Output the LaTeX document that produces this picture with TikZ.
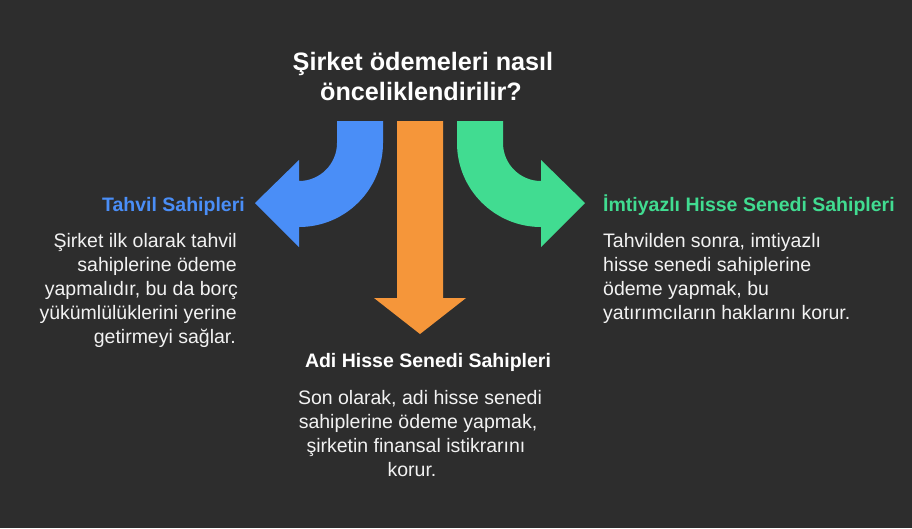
\documentclass[tikz,border=0pt]{standalone}
\usepackage{fontspec}
\setmainfont{Liberation Sans}
\definecolor{bgc}{RGB}{45,45,45}
\definecolor{bluec}{RGB}{74,142,247}
\definecolor{orangec}{RGB}{245,150,58}
\definecolor{greenc}{RGB}{65,220,145}
\definecolor{txtc}{RGB}{242,242,242}
\begin{document}
\begin{tikzpicture}[x=1pt,y=-1pt,
  title/.style={inner sep=0pt,text=white,font=\fontsize{25.2}{30}\selectfont\bfseries},
  head/.style={inner sep=0pt,font=\fontsize{19.5}{24}\selectfont\bfseries},
  body/.style={inner sep=0pt,text=txtc,font=\fontsize{19.5}{24}\selectfont}]
\fill[bgc] (0,0) rectangle (912,528);
\useasboundingbox (0,0) rectangle (912,528);
% blue arrow
\fill[bluec] (383,121) -- (383,143) arc[start angle=0,end angle=90,radius=84]
  -- (299,247) -- (255,203) -- (299,160) -- (299,181)
  arc[start angle=90,end angle=0,radius=38] -- (337,121) -- cycle;
% green arrow
\fill[greenc] (457,121) -- (457,143) arc[start angle=180,end angle=90,radius=84]
  -- (541,247) -- (585,203) -- (541,160) -- (541,181)
  arc[start angle=90,end angle=180,radius=38] -- (503,121) -- cycle;
% orange arrow
\fill[orangec] (397,121) -- (397,298) -- (374,298) -- (420,334) -- (466,298)
  -- (443,298) -- (443,121) -- cycle;
% title
\node[title,anchor=base] (t1) at (423,70) {Şirket ödemeleri nasıl};
\node[title,anchor=base] (t2) at (421,100) {önceliklendirilir?};
% blue
\node[head,text=bluec,anchor=base east] (bh) at (245,211) {Tahvil Sahipleri};
\node[body,anchor=base east] (b1) at (237,247) {Şirket ilk olarak tahvil};
\node[body,anchor=base east] (b2) at (237,271) {sahiplerine ödeme};
\node[body,anchor=base east] (b3) at (238,295) {yapmalıdır, bu da borç};
\node[body,anchor=base east] (b4) at (237,319) {yükümlülüklerini yerine};
\node[body,anchor=base east] (b5) at (236,343) {getirmeyi sağlar.};
% green
\node[head,text=greenc,anchor=base west] (gh) at (603,211) {İmtiyazlı Hisse Senedi Sahipleri};
\node[body,anchor=base west] (g1) at (603,247) {Tahvilden sonra, imtiyazlı};
\node[body,anchor=base west] (g2) at (603,271) {hisse senedi sahiplerine};
\node[body,anchor=base west] (g3) at (603,295) {ödeme yapmak, bu};
\node[body,anchor=base west] (g4) at (603,319) {yatırımcıların haklarını korur.};
% orange
\node[head,text=white,anchor=base] (oh) at (428,367) {Adi Hisse Senedi Sahipleri};
\node[body,anchor=base] (o1) at (420,404) {Son olarak, adi hisse senedi};
\node[body,anchor=base] (o2) at (418,428) {sahiplerine ödeme yapmak,};
\node[body,anchor=base] (o3) at (416,452) {şirketin finansal istikrarını};
\node[body,anchor=base] (o4) at (412,476) {korur.};
\end{tikzpicture}
\end{document}
